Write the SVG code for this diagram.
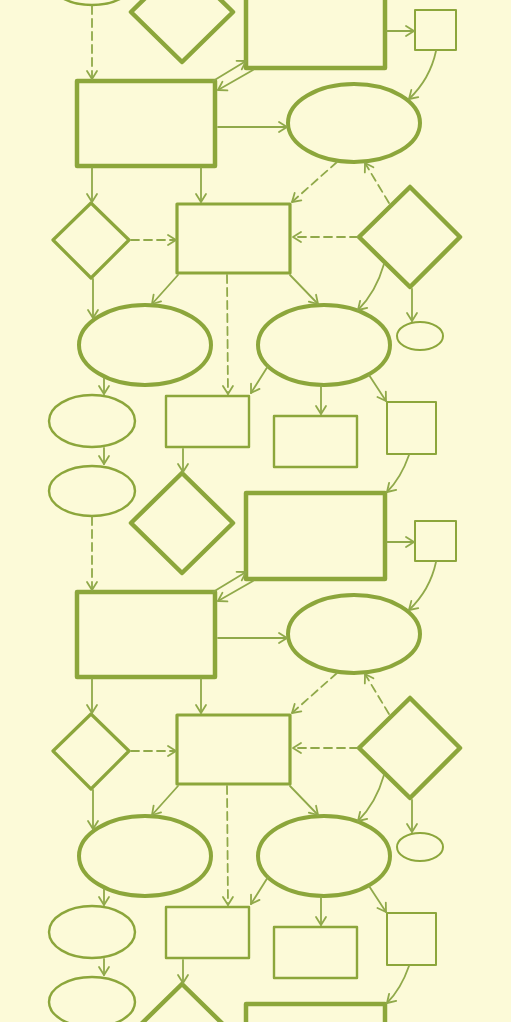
<svg xmlns="http://www.w3.org/2000/svg" width="511" height="1022" viewBox="0 0 511 1022">
<style>
.n{fill:none;stroke:#8ca63b;stroke-linejoin:round;stroke-linecap:round}
.xl{stroke-width:4.5}
.l{stroke-width:4}
.m{stroke-width:3.2}
.s{stroke-width:2.4}
.xs{stroke-width:2}
.c{fill:none;stroke:#90a94a;stroke-width:1.8;stroke-linecap:round;marker-end:url(#ah)}
.d{stroke-dasharray:8 5}
</style>
<defs>
<marker id="ah" markerUnits="userSpaceOnUse" markerWidth="14" markerHeight="14" refX="0" refY="0" viewBox="-10 -7 14 14" orient="auto" overflow="visible">
<path d="M-8,-5 L0,0 L-8,5" fill="none" stroke="#90a94a" stroke-width="1.8" stroke-linecap="round" stroke-linejoin="round"/>
</marker>
<g id="tile">
<g id="nodes">
<g id="r1"><rect class="n xl" x="77" y="81" width="138" height="85"/></g>
<g id="r2"><rect class="n xl" x="246" y="493" width="139" height="86"/></g>
<g id="d1"><path class="n xl" d="M182,473 L233,523 L182,573 L131,523 Z"/></g>
<g id="sq1"><rect class="n xs" x="415" y="10" width="41" height="40"/></g>
<g id="e1"><ellipse class="n l" cx="354" cy="123" rx="66" ry="39"/></g>
<g id="d2"><path class="n m" d="M91,203 L129,240 L91,278 L53,240 Z"/></g>
<g id="r3"><rect class="n m" x="177" y="204" width="113" height="69"/></g>
<g id="d3"><path class="n xl" d="M410,187 L460,237 L410,287 L359,237 Z"/></g>
<g id="e2"><ellipse class="n l" cx="145" cy="345" rx="66" ry="40"/></g>
<g id="e3"><ellipse class="n l" cx="324" cy="345" rx="66" ry="40"/></g>
<g id="e4"><ellipse class="n xs" cx="420" cy="336" rx="23" ry="14"/></g>
<g id="e5"><ellipse class="n s" cx="92" cy="421" rx="43" ry="26"/></g>
<g id="e6"><ellipse class="n s" cx="92" cy="491" rx="43" ry="25"/></g>
<g id="r4"><rect class="n s" x="166" y="396" width="83" height="51"/></g>
<g id="r5"><rect class="n s" x="274" y="416" width="83" height="51"/></g>
<g id="sq2"><rect class="n xs" x="387" y="402" width="49" height="52"/></g>
</g>
<g id="connectors">
<path class="c d" d="M92,6 L92,79"/>
<path class="c" d="M213,81 L246,61"/>
<path class="c" d="M253,70 L218,90"/>
<path class="c" d="M218,127 L287,127"/>
<path class="c" d="M387,31 L414,31"/>
<path class="c" d="M436,51 Q430,79 409,99"/>
<path class="c" d="M92,168 L92,202"/>
<path class="c" d="M201,168 L201,202"/>
<path class="c d" d="M131,240 L176,240"/>
<path class="c d" d="M337,162 L292,202"/>
<path class="c d" d="M389,203 L365,163"/>
<path class="c d" d="M358,237 L293,237"/>
<path class="c" d="M93,279 L93,318"/>
<path class="c" d="M178,275 L152,304"/>
<path class="c d" d="M227,275 L228,394"/>
<path class="c" d="M290,275 L318,304"/>
<path class="c" d="M384,264 Q376,292 358,310"/>
<path class="c" d="M412,289 L412,321"/>
<path class="c" d="M104,378 L104,394"/>
<path class="c" d="M104,448 L104,464"/>
<path class="c" d="M268,366 L251,393"/>
<path class="c" d="M321,386 L321,414"/>
<path class="c" d="M369,375 L386,401"/>
<path class="c" d="M183,449 L183,472"/>
<path class="c" d="M409,455 Q401,478 387,492"/>
</g>
</g>
</defs>
<rect id="background" x="0" y="0" width="511" height="1022" fill="#fcfad8"/>
<use href="#tile" x="0" y="-511"/>
<use href="#tile" x="0" y="0"/>
<use href="#tile" x="0" y="511"/>
</svg>
